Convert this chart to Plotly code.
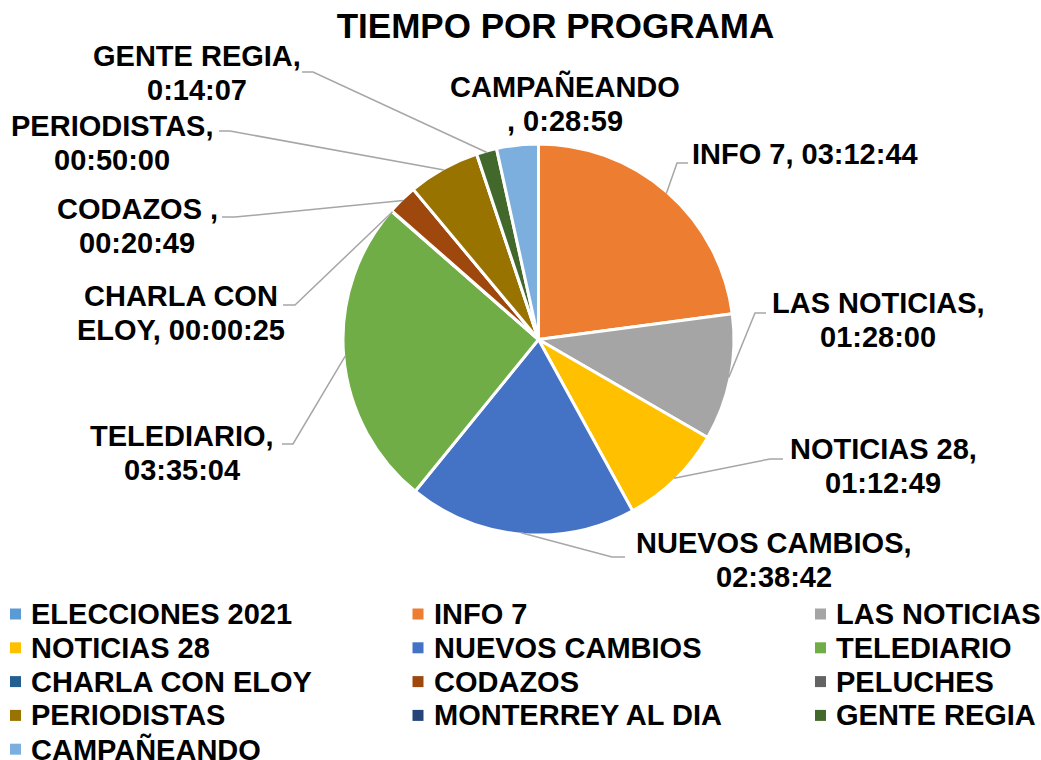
import plotly.graph_objects as go
import math

# ---------------- data ----------------
categories = ["ELECCIONES 2021", "INFO 7", "LAS NOTICIAS", "NOTICIAS 28", "NUEVOS CAMBIOS",
              "TELEDIARIO", "CHARLA CON ELOY", "CODAZOS ", "PELUCHES", "PERIODISTAS",
              "MONTERREY AL DIA", "GENTE REGIA", "CAMPAÑEANDO "]
durations = ["0:00:00", "03:12:44", "01:28:00", "01:12:49", "02:38:42",
             "03:35:04", "00:00:25", "00:20:49", "0:00:00", "00:50:00",
             "0:00:00", "0:14:07", "0:28:59"]
colors = ["#5B9BD5", "#ED7D31", "#A5A5A5", "#FFC000", "#4472C4", "#70AD47",
          "#255E91", "#9E480E", "#636363", "#997300", "#264478", "#43682B", "#7CAFDD"]
title_text = "TIEMPO POR PROGRAMA"


def to_seconds(s):
    h, m, sec = (int(p) for p in s.split(":"))
    return h * 3600 + m * 60 + sec


seconds = [to_seconds(d) for d in durations]

# ---------------- layout constants ----------------
W, H = 1041, 760
CX, CY, R = 538.5, 339.5, 194.0        # pie centre / radius in pixels
R_DOMAIN = R + 1.5                     # plotly draws slightly inside its domain
FONT = "Liberation Sans, Arial, sans-serif"
LABEL_SIZE = 29
LINE_GAP = 34
LEADER_COLOR = "#A6A6A6"

# label block centre, words on first line (0 = single line), leader elbow/end points
LABEL_LAYOUT = {
    "INFO 7": dict(words=0, c=(805, 154), lead=[(677, 163), (688, 163)]),
    "LAS NOTICIAS": dict(words=2, c=(878, 320), lead=[(755, 313), (766, 313)]),
    "NOTICIAS 28": dict(words=2, c=(883, 466), lead=[(770, 459), (783, 459)]),
    "NUEVOS CAMBIOS": dict(words=2, c=(774, 560), lead=[(612, 557), (625, 557)]),
    "TELEDIARIO": dict(words=1, c=(182, 453), lead=[(293, 444), (282, 444)]),
    "CHARLA CON ELOY": dict(words=2, c=(181, 313), lead=[(295, 305), (283, 305)]),
    "CODAZOS ": dict(words=2, c=(137, 226), lead=[(235, 217), (222, 217)]),
    "PERIODISTAS": dict(words=1, c=(112, 143), lead=[(230, 131), (219, 131)]),
    "GENTE REGIA": dict(words=2, c=(197, 73), lead=[(313, 72), (302, 72)]),
    "CAMPAÑEANDO ": dict(words=1, c=(565, 104), lead=None),
}

LEG_X0, LEG_DX = 10, 402.5
LEG_Y0, LEG_DY = 614, 33.8
LEG_SQ = 11
LEG_TEXT_GAP = 19


def px(x):
    return x / W


def py(y):
    return 1 - y / H


fig = go.Figure()
fig.add_trace(go.Pie(
    labels=categories,
    values=seconds,
    customdata=durations,
    sort=False,
    direction="clockwise",
    rotation=0,
    marker=dict(colors=colors, line=dict(color="white", width=3)),
    textinfo="none",
    hovertemplate="%{label}: %{customdata}<extra></extra>",
    showlegend=False,
    domain=dict(x=[px(CX - R_DOMAIN), px(CX + R_DOMAIN)],
                y=[py(CY + R_DOMAIN), py(CY - R_DOMAIN)]),
))

annotations = []
shapes = []
label_font = dict(family=FONT, size=LABEL_SIZE, color="black", weight="bold")

# data labels with leader lines
total = sum(seconds)
cum = 0.0
for cat, sec, dur in zip(categories, seconds, durations):
    start = cum
    cum += sec
    if sec == 0 or cat not in LABEL_LAYOUT:
        continue
    spec = LABEL_LAYOUT[cat]
    full = f"{cat}, {dur}"
    words = full.split(" ")
    if spec["words"]:
        lines = [" ".join(words[:spec["words"]]), " ".join(words[spec["words"]:])]
    else:
        lines = [full]
    cx, cy = spec["c"]
    n = len(lines)
    for k, line in enumerate(lines):
        ly = cy + (k - (n - 1) / 2) * LINE_GAP
        annotations.append(dict(
            x=px(cx), y=py(ly), xref="paper", yref="paper", text=line, showarrow=False,
            xanchor="center", yanchor="middle", align="center", font=label_font,
        ))
    if spec["lead"]:
        mid = (start + sec / 2) / total * 2 * math.pi
        sx = CX + R * math.sin(mid)
        sy = CY - R * math.cos(mid)
        pts = [(sx, sy)] + spec["lead"]
        path = "M " + " L ".join(f"{px(x):.5f},{py(y):.5f}" for x, y in pts)
        shapes.append(dict(type="path", path=path, xref="paper", yref="paper",
                           line=dict(color=LEADER_COLOR, width=1.5)))

# legend (three columns)
for i, (cat, col) in enumerate(zip(categories, colors)):
    c, r = i % 3, i // 3
    x0 = LEG_X0 + c * LEG_DX
    yc = LEG_Y0 + r * LEG_DY
    shapes.append(dict(type="rect", xref="paper", yref="paper",
                       x0=px(x0), x1=px(x0 + LEG_SQ),
                       y0=py(yc - LEG_SQ / 2), y1=py(yc + LEG_SQ / 2),
                       fillcolor=col, line=dict(width=0)))
    annotations.append(dict(
        x=px(x0 + LEG_TEXT_GAP), y=py(yc), xref="paper", yref="paper", text=cat.strip(),
        showarrow=False, xanchor="left", yanchor="middle", font=label_font,
    ))

fig.update_layout(
    width=W, height=H,
    margin=dict(l=0, r=0, t=0, b=0),
    paper_bgcolor="white",
    plot_bgcolor="white",
    title=dict(text=title_text, x=px(555.5), xanchor="center",
               y=py(26), yanchor="middle", yref="container",
               font=dict(family=FONT, size=35, color="black", weight="bold")),
    annotations=annotations,
    shapes=shapes,
    showlegend=False,
)

fig.write_html("out.html",
               config={"displayModeBar": False},
               post_script="document.body.style.margin='0';document.body.style.overflow='hidden';")
